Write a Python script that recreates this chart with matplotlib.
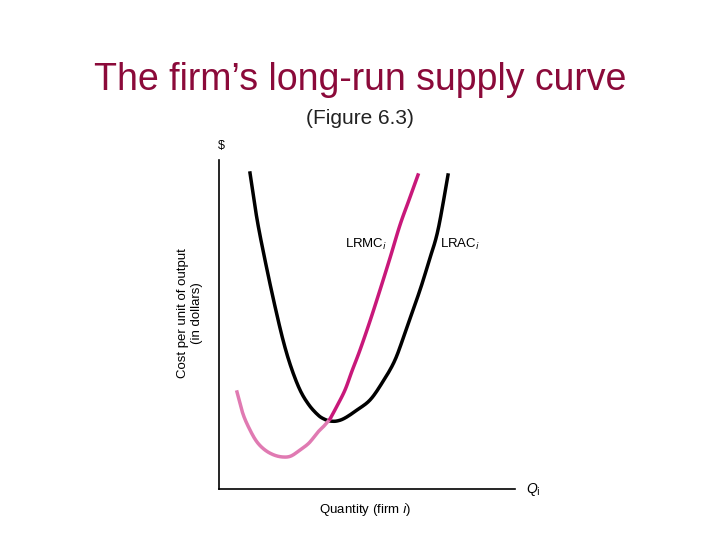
import matplotlib
matplotlib.use("Agg")
import matplotlib.pyplot as plt
import numpy as np

lrac_q = [31, 38, 46, 55, 64, 72, 81, 90, 99, 105, 111, 118, 126, 138, 151, 163, 176, 188, 201, 210, 219, 229]
lrac_c = [316, 270, 229, 187, 149, 122, 99, 84, 74, 70, 68, 68, 71, 79, 89, 106, 129, 162, 199, 228, 259, 314]
lrmc_low_q = [18, 24, 31, 38, 46, 55, 64, 72, 81, 90, 99, 105, 111]
lrmc_low_c = [97, 75, 59, 47, 39, 34, 32, 33, 39, 46, 57, 63, 70]
lrmc_up_q = [111, 118, 126, 133, 141, 151, 161, 171, 181, 190, 199]
lrmc_up_c = [70, 83, 99, 118, 139, 168, 199, 231, 264, 289, 314]

def smooth(xs, ys, n=12):
    # Catmull-Rom spline through the given points, for drawing only
    P = np.column_stack([xs, ys]).astype(float)
    P = np.vstack([P[0], P, P[-1]])
    out = []
    t = np.linspace(0, 1, n, endpoint=False)[:, None]
    for i in range(1, len(P) - 2):
        p0, p1, p2, p3 = P[i-1], P[i], P[i+1], P[i+2]
        seg = 0.5 * ((2*p1) + (-p0 + p2)*t + (2*p0 - 5*p1 + 4*p2 - p3)*t**2 + (-p0 + 3*p1 - 3*p2 + p3)*t**3)
        out.append(seg)
    out.append(P[-2][None, :])
    o = np.vstack(out)
    return o[:, 0], o[:, 1]

fig = plt.figure(figsize=(7.2, 5.4), dpi=100)
fig.text(0.5, 1-80/540, "The firm\u2019s long-run supply curve", ha="center", va="center", fontsize=27, color="#8b0a3a", family="Liberation Sans")
fig.text(0.5, 1-118/540, "(Figure 6.3)", ha="center", va="center", fontsize=15, color="#222222", family="Liberation Sans")

ax = fig.add_axes([219/720, 51/540, 296/720, 329/540])
ax.set_xlim(0, 296)
ax.set_ylim(0, 329)
for s in ["top", "right"]:
    ax.spines[s].set_visible(False)
for s in ["left", "bottom"]:
    ax.spines[s].set_linewidth(1.2)
ax.set_xticks([]); ax.set_yticks([])

ax.plot(*smooth(lrac_q, lrac_c), color="black", lw=2.5)
ax.plot(*smooth(lrmc_low_q, lrmc_low_c), color="#e07ab2", lw=2.5)
ax.plot(*smooth(lrmc_up_q, lrmc_up_c), color="#c8187a", lw=2.5)

ax.text(126, 245, "LRMC$_i$", fontsize=9.5, ha="left", va="center", family="Liberation Sans")
ax.text(221, 245, "LRAC$_i$", fontsize=9.5, ha="left", va="center", family="Liberation Sans")
fig.text(221/720, 1-146/540, "$", fontsize=9, ha="center", va="center", family="Liberation Sans")
fig.text(533/720, 1-490/540, "Q$_{\\rm i}$", fontsize=10, ha="center", va="center", style="italic", family="Liberation Sans")
fig.text(365/720, 1-509/540, "Quantity (firm $i$)", fontsize=9.5, ha="center", va="center", family="Liberation Sans")
fig.text(190/720, 1-313/540, "Cost per unit of output\n(in dollars)", fontsize=9.5, ha="center", va="center", rotation=90, family="Liberation Sans")

fig.savefig("out.png", dpi=100)
